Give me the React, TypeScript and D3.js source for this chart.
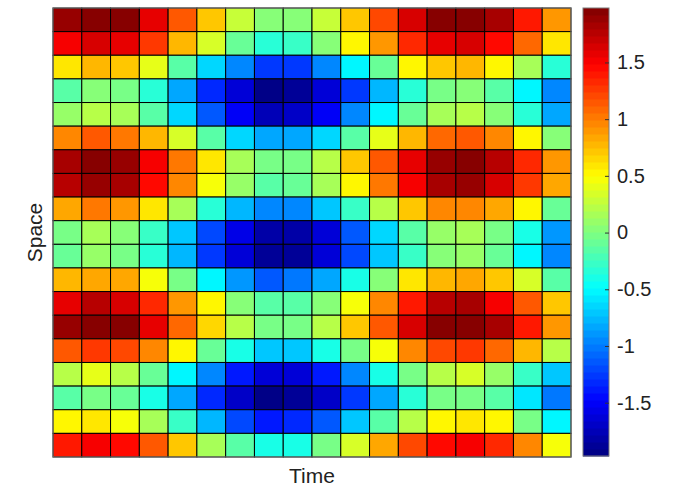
import * as d3 from "d3";
import { useEffect, useRef } from "react";

// grid indices (columns = time, rows = space, top row first)
const timeIdx = [1, 2, 3, 4, 5, 6, 7, 8, 9, 10, 11, 12, 13, 14, 15, 16, 17, 18];
const spaceIdx = [1, 2, 3, 4, 5, 6, 7, 8, 9, 10, 11, 12, 13, 14, 15, 16, 17, 18, 19];

// values, one row per space step
const field = [
  [1.87, 1.95, 1.92, 1.6, 1.17, 0.69, 0.3, 0.06, 0.06, 0.3, 0.74, 1.2, 1.67, 1.95, 1.95, 1.8, 1.42, 0.93],
  [1.54, 1.67, 1.6, 1.3, 0.8, 0.32, -0.06, -0.31, -0.25, 0.06, 0.52, 0.93, 1.36, 1.6, 1.67, 1.48, 1.1, 0.62],
  [0.62, 0.77, 0.69, 0.4, -0.12, -0.63, -0.98, -1.23, -1.23, -0.98, -0.55, -0.06, 0.52, 0.69, 0.77, 0.55, 0.18, -0.31],
  [-0.12, 0.06, 0.0, -0.31, -0.8, -1.3, -1.6, -1.93, -1.9, -1.6, -1.23, -0.77, -0.31, 0.0, 0.06, -0.12, -0.49, -0.98],
  [0.12, 0.25, 0.18, -0.12, -0.63, -1.11, -1.48, -1.74, -1.67, -1.48, -0.98, -0.49, -0.06, 0.18, 0.25, 0.06, -0.31, -0.8],
  [0.98, 1.17, 1.04, 0.77, 0.32, -0.18, -0.63, -0.8, -0.8, -0.63, -0.12, 0.4, 0.8, 1.1, 1.17, 0.95, 0.55, 0.06],
  [1.8, 1.92, 1.87, 1.54, 1.04, 0.6, 0.18, 0.0, 0.0, 0.25, 0.69, 1.17, 1.6, 1.87, 1.92, 1.74, 1.36, 0.9],
  [1.74, 1.87, 1.8, 1.48, 0.98, 0.49, 0.12, -0.12, -0.06, 0.18, 0.55, 1.04, 1.54, 1.8, 1.87, 1.67, 1.3, 0.83],
  [0.86, 1.04, 0.93, 0.62, 0.18, -0.31, -0.77, -0.93, -0.93, -0.7, -0.25, 0.25, 0.69, 0.98, 0.98, 0.83, 0.52, -0.06],
  [0.0, 0.18, 0.06, -0.25, -0.7, -1.17, -1.54, -1.8, -1.8, -1.6, -1.11, -0.63, -0.18, 0.12, 0.18, 0.0, -0.4, -0.86],
  [-0.06, 0.12, 0.0, -0.31, -0.74, -1.23, -1.6, -1.87, -1.85, -1.6, -1.17, -0.7, -0.25, 0.06, 0.12, -0.06, -0.49, -0.93],
  [0.77, 0.86, 0.83, 0.49, 0.0, -0.49, -0.86, -1.11, -1.04, -0.8, -0.4, 0.06, 0.6, 0.8, 0.86, 0.69, 0.32, -0.18],
  [1.6, 1.77, 1.67, 1.36, 0.93, 0.5, 0.06, -0.18, -0.18, 0.06, 0.49, 0.98, 1.42, 1.74, 1.8, 1.54, 1.17, 0.74],
  [1.87, 1.95, 1.92, 1.6, 1.1, 0.67, 0.25, 0.0, 0.0, 0.25, 0.69, 1.17, 1.67, 1.92, 1.95, 1.8, 1.42, 0.93],
  [1.17, 1.3, 1.23, 0.95, 0.5, -0.06, -0.4, -0.7, -0.7, -0.37, 0.0, 0.49, 0.98, 1.23, 1.27, 1.1, 0.77, 0.25],
  [0.25, 0.4, 0.25, -0.06, -0.49, -0.98, -1.36, -1.6, -1.6, -1.36, -0.93, -0.4, 0.0, 0.25, 0.32, 0.12, -0.25, -0.7],
  [-0.12, 0.0, -0.06, -0.37, -0.8, -1.3, -1.67, -1.93, -1.9, -1.67, -1.23, -0.8, -0.31, 0.0, 0.0, -0.18, -0.6, -1.04],
  [0.52, 0.62, 0.49, 0.18, -0.25, -0.74, -1.17, -1.36, -1.3, -1.11, -0.7, -0.18, 0.25, 0.55, 0.62, 0.5, 0.0, -0.49],
  [1.42, 1.54, 1.48, 1.17, 0.69, 0.18, -0.18, -0.4, -0.37, 0.0, 0.32, 0.83, 1.23, 1.48, 1.54, 1.36, 0.98, 0.49],
];

const colorTicks = [-1.5, -1, -0.5, 0, 0.5, 1, 1.5];
const cMin = -1.97;
const cMax = 1.98;

// matlab-style jet, 64 steps
function jet(t: number) {
  const n = 64;
  const i = Math.max(0, Math.min(n - 1, Math.floor(t * n)));
  const q = (i + 0.5) / n;
  const c = (v: number) => Math.round(255 * Math.max(0, Math.min(1, v)));
  return `rgb(${c(1.5 - Math.abs(4 * q - 3))},${c(1.5 - Math.abs(4 * q - 2))},${c(1.5 - Math.abs(4 * q - 1))})`;
}

export default function App() {
  const ref = useRef<SVGSVGElement>(null);

  useEffect(() => {
    const svg = d3.select(ref.current);
    svg.selectAll("*").remove();

    const width = 681;
    const height = 488;
    const plot = { left: 53, right: 571, top: 8, bottom: 457 };
    const bar = { left: 583, right: 609 };
    const font = "'Liberation Sans', Arial, sans-serif";

    svg.attr("width", width).attr("height", height);

    const x = d3.scaleBand<number>().domain(timeIdx).range([plot.left, plot.right]);
    const y = d3.scaleBand<number>().domain(spaceIdx).range([plot.top, plot.bottom]);
    const norm = d3.scaleLinear().domain([cMin, cMax]).range([0, 1]).clamp(true);
    const color = (v: number) => jet(norm(v));

    const cells = field.flatMap((row, r) =>
      row.map((v, c) => ({ t: timeIdx[c], s: spaceIdx[r], v }))
    );

    svg.append("g")
      .selectAll("rect")
      .data(cells)
      .join("rect")
      .attr("x", d => x(d.t)!)
      .attr("y", d => y(d.s)!)
      .attr("width", x.bandwidth())
      .attr("height", y.bandwidth())
      .attr("fill", d => color(d.v))
      .attr("stroke", "#000")
      .attr("stroke-width", 1);

    svg.append("rect")
      .attr("x", plot.left)
      .attr("y", plot.top)
      .attr("width", plot.right - plot.left)
      .attr("height", plot.bottom - plot.top)
      .attr("fill", "none")
      .attr("stroke", "#7a7a7a")
      .attr("stroke-width", 1);

    // colorbar
    const cy = d3.scaleLinear().domain([cMin, cMax]).range([plot.bottom - 1, plot.top]);
    const steps = d3.range(64);
    const stepH = (cy(cMin) - cy(cMax)) / 64;
    svg.append("g")
      .selectAll("rect")
      .data(steps)
      .join("rect")
      .attr("x", bar.left)
      .attr("y", i => cy(cMin) - (i + 1) * stepH)
      .attr("width", bar.right - bar.left)
      .attr("height", stepH + 0.5)
      .attr("fill", i => jet((i + 0.5) / 64));

    svg.append("rect")
      .attr("x", bar.left)
      .attr("y", cy(cMax))
      .attr("width", bar.right - bar.left)
      .attr("height", cy(cMin) - cy(cMax))
      .attr("fill", "none")
      .attr("stroke", "#7a7a7a");

    const axis = svg.append("g")
      .attr("transform", `translate(${bar.right},0)`)
      .call(d3.axisRight(cy).tickValues(colorTicks).tickSize(-4).tickPadding(8).tickFormat(d => String(d)));
    axis.select(".domain").remove();
    axis.selectAll("line").attr("stroke", "#333");
    axis.selectAll("text")
      .attr("fill", "#222")
      .style("font-family", font)
      .style("font-size", "20px");

    svg.append("text")
      .attr("x", (plot.left + plot.right) / 2)
      .attr("y", 483)
      .attr("text-anchor", "middle")
      .attr("fill", "#222")
      .style("font-family", font)
      .style("font-size", "21px")
      .text("Time");

    svg.append("text")
      .attr("transform", `translate(42,${(plot.top + plot.bottom) / 2}) rotate(-90)`)
      .attr("text-anchor", "middle")
      .attr("fill", "#222")
      .style("font-family", font)
      .style("font-size", "21px")
      .text("Space");
  }, []);

  return (
    <div style={{ position: "absolute", left: 0, top: 0 }}>
      <svg ref={ref} style={{ display: "block" }}></svg>
    </div>
  );
}
